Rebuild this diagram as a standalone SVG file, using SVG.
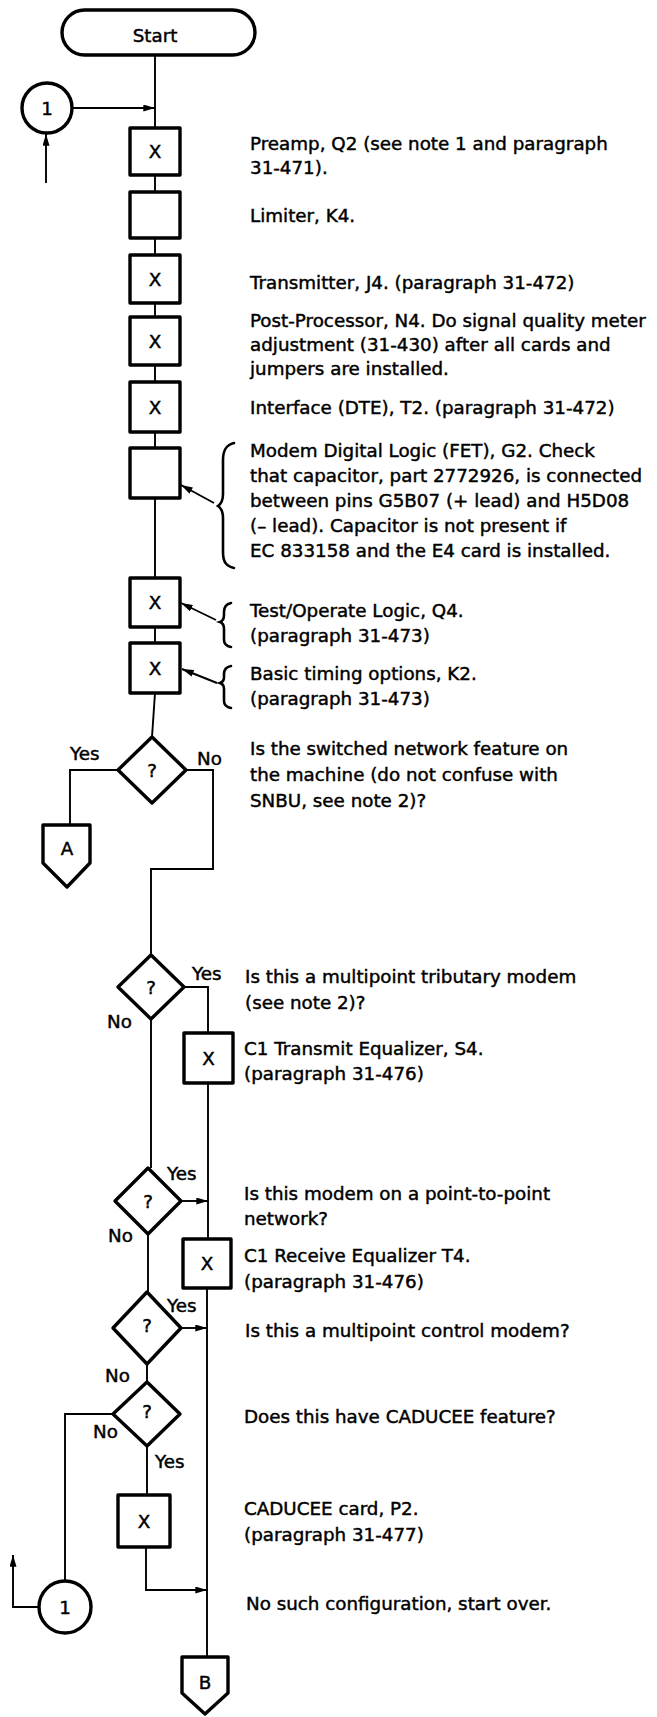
<svg xmlns="http://www.w3.org/2000/svg" width="657" height="1717" viewBox="0 0 657 1717">
<defs>
<marker id="ah" viewBox="0 0 10 6" refX="10" refY="3" markerWidth="12" markerHeight="7" markerUnits="userSpaceOnUse" orient="auto"><path d="M0,0 L10,3 L0,6 z" fill="#000"/></marker>
</defs>
<style>
.s{fill:#fff;stroke:#000;stroke-width:3.4;stroke-linejoin:round}
.c{fill:none;stroke:#000;stroke-width:1.9}
.a{marker-end:url(#ah)}
.br{fill:none;stroke:#000;stroke-width:2.6;stroke-linecap:round}
text{font-family:"DejaVu Sans","Liberation Sans",sans-serif;font-size:18.3px;fill:#000;stroke:#000;stroke-width:0.45}
.m{text-anchor:middle}
</style>
<rect width="657" height="1717" fill="#fff"/>

<g id="connectors">
<path class="c" d="M155 55 V128"/>
<path class="c a" d="M72 108 H155"/>
<path class="c a" d="M46 183 V134"/>
<path class="c" d="M155 175 V192"/>
<path class="c" d="M155 238 V255"/>
<path class="c" d="M155 303 V317"/>
<path class="c" d="M155 365 V382"/>
<path class="c" d="M155 432 V448"/>
<path class="c" d="M155 498 V578"/>
<path class="c" d="M155 628 V643"/>
<path class="c" d="M155 693 L152 737"/>
<path class="c" d="M118 770 H70 V825"/>
<path class="c" d="M186 770 H213 V869 H151 V955"/>
<path class="c" d="M183 987 H208 V1033"/>
<path class="c" d="M208 1083 V1239"/>
<path class="c a" d="M181 1201 H208"/>
<path class="c" d="M207 1288 V1657"/>
<path class="c" d="M151 1019 V1168"/>
<path class="c" d="M148 1234 V1292"/>
<path class="c a" d="M181 1328 H207"/>
<path class="c" d="M147 1364 V1382"/>
<path class="c" d="M147 1446 V1495"/>
<path class="c" d="M113 1414 H65 V1581"/>
<path class="c a" d="M39 1607 H13 V1555"/>
<path class="c a" d="M146 1547 V1590 H207"/>
<path class="c a" d="M214 503 L181 485"/>
<path class="c a" d="M216 620 L181 603"/>
<path class="c a" d="M217 683 L182 669"/>
</g>

<g id="start">
<rect class="s" x="62" y="10" width="193" height="45" rx="22.5"/>
<text class="m" x="155" y="42">Start</text>
</g>

<g id="conn1-top">
<circle class="s" cx="47" cy="108" r="25"/>
<text class="m" x="47" y="115">1</text>
</g>

<g id="preamp">
<rect class="s" x="130" y="128" width="50" height="47"/>
<text class="m" x="155" y="158">X</text>
<text x="250" y="150">Preamp, Q2 (see note 1 and paragraph</text>
<text x="250" y="174">31-471).</text>
</g>

<g id="limiter">
<rect class="s" x="130" y="192" width="50" height="46"/>
<text x="250" y="222">Limiter, K4.</text>
</g>

<g id="transmitter">
<rect class="s" x="130" y="255" width="50" height="48"/>
<text class="m" x="155" y="286">X</text>
<text x="250" y="289">Transmitter, J4. (paragraph 31-472)</text>
</g>

<g id="postprocessor">
<rect class="s" x="130" y="317" width="50" height="48"/>
<text class="m" x="155" y="348">X</text>
<text x="250" y="327">Post-Processor, N4. Do signal quality meter</text>
<text x="250" y="351">adjustment (31-430) after all cards and</text>
<text x="250" y="375">jumpers are installed.</text>
</g>

<g id="interface">
<rect class="s" x="130" y="382" width="50" height="50"/>
<text class="m" x="155" y="414">X</text>
<text x="250" y="414">Interface (DTE), T2. (paragraph 31-472)</text>
</g>

<g id="modem-digital-logic">
<rect class="s" x="130" y="448" width="50" height="50"/>
<path class="br" d="M234 443 C226 445 223 450 223 460 L223 494 C223 501 221 504 218 506 C221 508 223 511 223 518 L223 552 C223 562 226 566 234 568"/>
<text x="250" y="457">Modem Digital Logic (FET), G2.  Check</text>
<text x="250" y="482">that capacitor, part 2772926, is connected</text>
<text x="250" y="507">between pins G5B07 (+ lead) and H5D08</text>
<text x="250" y="532">(– lead).  Capacitor is not present if</text>
<text x="250" y="557">EC 833158 and the E4 card is installed.</text>
</g>

<g id="test-operate">
<rect class="s" x="130" y="578" width="50" height="49"/>
<text class="m" x="155" y="609">X</text>
<path class="br" d="M231 603 C226 604 224 607 224 612 L224 615 C224 619 223 621 220 622 C223 623 224 625 224 629 L224 640 C224 644 226 646 231 647"/>
<text x="250" y="617">Test/Operate Logic, Q4.</text>
<text x="250" y="642">(paragraph 31-473)</text>
</g>

<g id="basic-timing">
<rect class="s" x="130" y="643" width="50" height="50"/>
<text class="m" x="155" y="675">X</text>
<path class="br" d="M231 666 C226 667 224 670 224 674 L224 677 C224 680 223 682 220 683 C223 684 224 686 224 689 L224 701 C224 705 226 707 231 708"/>
<text x="250" y="680">Basic timing options, K2.</text>
<text x="250" y="705">(paragraph 31-473)</text>
</g>

<g id="decision-switched">
<polygon class="s" points="152,737 186,770 152,803 118,770"/>
<text class="m" x="152" y="777">?</text>
<text x="70" y="760">Yes</text>
<text x="197" y="765">No</text>
<text x="250" y="755">Is the switched network feature on</text>
<text x="250" y="781">the machine (do not confuse with</text>
<text x="250" y="807">SNBU, see note 2)?</text>
</g>

<g id="offpage-A">
<polygon class="s" points="43,825 90,825 90,863 67,887 43,863"/>
<text class="m" x="67" y="855">A</text>
</g>

<g id="decision-tributary">
<polygon class="s" points="151,955 184,987 151,1019 118,987"/>
<text class="m" x="151" y="994">?</text>
<text x="192" y="980">Yes</text>
<text x="107" y="1028">No</text>
<text x="245" y="983">Is this a multipoint tributary modem</text>
<text x="245" y="1009">(see note 2)?</text>
</g>

<g id="c1-transmit">
<rect class="s" x="184" y="1033" width="49" height="50"/>
<text class="m" x="208.5" y="1065">X</text>
<text x="244" y="1055">C1 Transmit Equalizer, S4.</text>
<text x="244" y="1080">(paragraph 31-476)</text>
</g>

<g id="decision-point-to-point">
<polygon class="s" points="148,1168 181,1201 148,1234 115,1201"/>
<text class="m" x="148" y="1208">?</text>
<text x="167" y="1180">Yes</text>
<text x="108" y="1242">No</text>
<text x="244" y="1200">Is this modem on a point-to-point</text>
<text x="244" y="1225">network?</text>
</g>

<g id="c1-receive">
<rect class="s" x="183" y="1239" width="48" height="49"/>
<text class="m" x="207" y="1270">X</text>
<text x="244" y="1262">C1 Receive Equalizer T4.</text>
<text x="244" y="1288">(paragraph 31-476)</text>
</g>

<g id="decision-control">
<polygon class="s" points="147,1292 181,1328 147,1364 113,1328"/>
<text class="m" x="147" y="1332">?</text>
<text x="167" y="1312">Yes</text>
<text x="105" y="1382">No</text>
<text x="245" y="1337">Is this a multipoint control modem?</text>
</g>

<g id="decision-caducee">
<polygon class="s" points="147,1382 180,1414 147,1446 113,1414"/>
<text class="m" x="147" y="1418">?</text>
<text x="93" y="1438">No</text>
<text x="155" y="1468">Yes</text>
<text x="244" y="1423">Does this have CADUCEE feature?</text>
</g>

<g id="caducee-card">
<rect class="s" x="118" y="1495" width="52" height="52"/>
<text class="m" x="144" y="1528">X</text>
<text x="244" y="1515">CADUCEE card, P2.</text>
<text x="244" y="1541">(paragraph 31-477)</text>
</g>

<g id="conn1-bottom">
<circle class="s" cx="65" cy="1607" r="26"/>
<text class="m" x="65" y="1614">1</text>
<text x="246" y="1610">No such configuration, start over.</text>
</g>

<g id="offpage-B">
<polygon class="s" points="182,1657 228,1657 228,1693 205,1714 182,1693"/>
<text class="m" x="205" y="1689">B</text>
</g>
</svg>
